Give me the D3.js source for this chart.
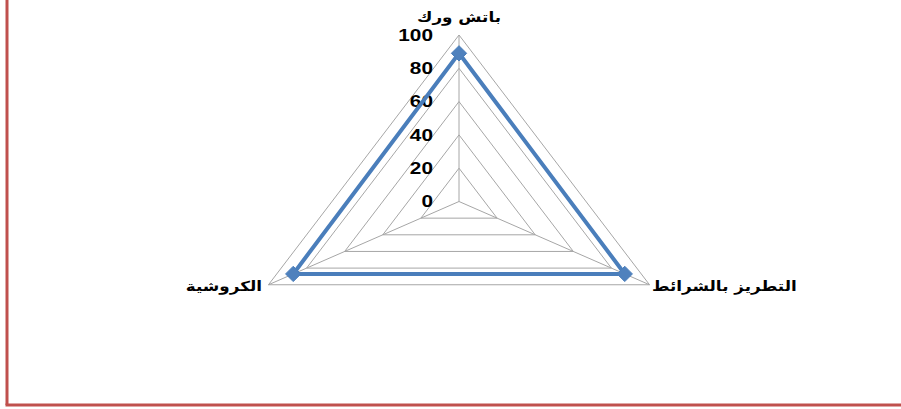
<!DOCTYPE html>
<html>
<head>
<meta charset="utf-8">
<script src="https://cdn.jsdelivr.net/npm/d3@7"></script>
<style>
  body { margin: 0; background: #fff; }
  svg { display: block; }
</style>
</head>
<body>
<div id="chart"></div>
<script>
// chart data
var categories = ["باتش ورك", "التطريز بالشرائط", "الكروشية"];
var values = [89, 87, 87];
var ticks = [0, 20, 40, 60, 80, 100];

var width = 901, height = 409;
var cx = 459, cy = 201.5;

var svg = d3.select("#chart")
  .append("svg")
    .attr("width", width)
    .attr("height", height);

// radial scales (the picture is stretched horizontally)
var rx = d3.scaleLinear().domain([0, 100]).range([0, 220]);
var ry = d3.scaleLinear().domain([0, 100]).range([0, 166.5]);
var angle = d3.scalePoint()
  .domain(categories)
  .range([0, 360 * (categories.length - 1) / categories.length]);

function pt(cat, v) {
  var a = (angle(cat) - 90) * Math.PI / 180;
  return [cx + rx(v) * Math.cos(a), cy + ry(v) * Math.sin(a)];
}

var g = svg.append("g");

// rings
ticks.filter(function(t) { return t > 0; }).forEach(function(t) {
  g.append("polygon")
    .attr("points", categories.map(function(c) { return pt(c, t).join(","); }).join(" "))
    .attr("fill", "none")
    .attr("stroke", "#a6a6a6")
    .attr("stroke-width", 1);
});

// spokes
categories.forEach(function(c) {
  var p = pt(c, 100);
  g.append("line")
    .attr("x1", cx).attr("y1", cy)
    .attr("x2", p[0]).attr("y2", p[1])
    .attr("stroke", "#a6a6a6")
    .attr("stroke-width", 1);
});

// tick labels (stretched like the rest of the picture)
g.selectAll(".tick")
  .data(ticks)
  .enter()
  .append("text")
    .attr("transform", function(d) {
      return "translate(" + (cx - 26) + "," + (cy - ry(d)) + ") scale(1.3,1)";
    })
    .attr("dy", "0.36em")
    .attr("text-anchor", "end")
    .attr("font-family", "Liberation Sans, Arial, sans-serif")
    .attr("font-weight", "bold")
    .attr("font-size", 16)
    .attr("fill", "#000")
    .text(function(d) { return d; });

// category labels
var labelPos = [
  {x: cx, y: 17, anchor: "middle"},
  {x: 652, y: 286, anchor: "start"},
  {x: 262, y: 286, anchor: "end"}
];
categories.forEach(function(c, i) {
  g.append("text")
    .attr("transform", "translate(" + labelPos[i].x + "," + labelPos[i].y + ") scale(1.2,1)")
    .attr("dy", "0.35em")
    .attr("text-anchor", labelPos[i].anchor)
    .attr("direction", "ltr")
    .attr("font-family", "DejaVu Sans, sans-serif")
    .attr("font-weight", "bold")
    .attr("font-size", 14)
    .attr("fill", "#000")
    .text(c);
});

// data line
var line = d3.line().curve(d3.curveLinearClosed);
g.append("path")
  .datum(categories.map(function(c, i) { return pt(c, values[i]); }))
  .attr("d", line)
  .attr("fill", "none")
  .attr("stroke", "#4a7ebb")
  .attr("stroke-width", 4)
  .attr("stroke-linejoin", "miter");

// markers
g.selectAll(".marker")
  .data(categories)
  .enter()
  .append("path")
    .attr("d", d3.symbol().type(d3.symbolDiamond2).size(150))
    .attr("transform", function(d, i) {
      var p = pt(d, values[i]);
      return "translate(" + p[0] + "," + p[1] + ")";
    })
    .attr("fill", "#4f81bd")
    .attr("stroke", "#4a7ebb")
    .attr("stroke-width", 1);

// red frame on the left and bottom
svg.append("line")
  .attr("x1", 7).attr("y1", 0)
  .attr("x2", 7).attr("y2", 405)
  .attr("stroke", "#c0504d")
  .attr("stroke-width", 3);
svg.append("line")
  .attr("x1", 5.5).attr("y1", 405)
  .attr("x2", width).attr("y2", 405)
  .attr("stroke", "#c0504d")
  .attr("stroke-width", 3);
</script>
</body>
</html>
